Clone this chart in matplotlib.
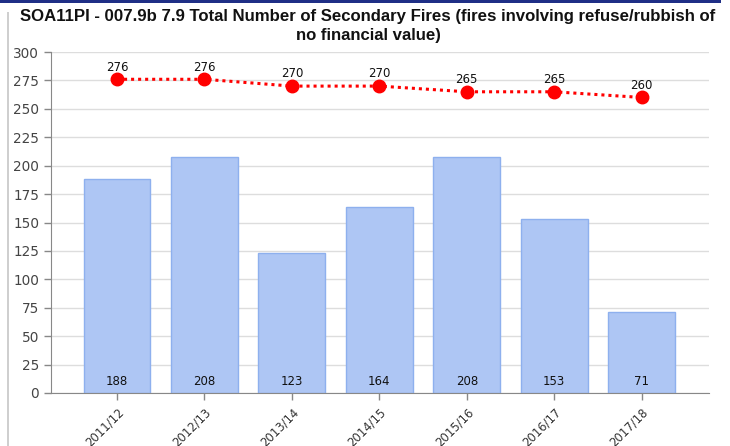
import matplotlib
matplotlib.use("Agg")
import matplotlib.pyplot as plt
from matplotlib.patches import Rectangle

years = ["2011/12", "2012/13", "2013/14", "2014/15", "2015/16", "2016/17", "2017/18"]
fires = [188, 208, 123, 164, 208, 153, 71]
target = [276, 276, 270, 270, 265, 265, 260]
yticks = list(range(0, 301, 25))

W, H = 730, 446
fig = plt.figure(figsize=(W / 100, H / 100), dpi=100)
fig.patch.set_facecolor("white")

# frame decorations: dark header strip and left grey rule
fig.add_artist(Rectangle((0, 1 - 3 / H), 721 / W, 3 / H, transform=fig.transFigure,
                         color="#1f2f86", lw=0))
fig.add_artist(Rectangle((7 / W, 0), 2 / W, 1 - 12 / H, transform=fig.transFigure,
                         color="#cfcfcf", lw=0))

left, right, top, bottom = 51, 709, 52, 393
ax = fig.add_axes([left / W, 1 - bottom / H, (right - left) / W, (bottom - top) / H])

x = list(range(len(years)))
ax.bar(x, fires, width=0.765, color="#aec6f4", edgecolor="#8eb0ee", linewidth=1, zorder=2)
for xi, v in zip(x, fires):
    ax.text(xi, 4, str(v), ha="center", va="bottom", fontsize=8.5, color="#111111", zorder=4)

ax.plot(x, target, color="#ff0000", linestyle=(0, (1, 1.3)), linewidth=2.2,
        marker="o", markersize=9, markerfacecolor="#ff0000", markeredgecolor="#ff0000", zorder=3)
for xi, v in zip(x, target):
    ax.text(xi, v + 5, str(v), ha="center", va="bottom", fontsize=8.5, color="#111111", zorder=4)

ax.set_xlim(-0.755, 6.77)
ax.set_ylim(0, 300)
ax.set_yticks(yticks)
ax.set_yticklabels([str(t) for t in yticks], fontsize=9.8, color="#444444")
ax.set_xticks(x)
ax.set_xticklabels(years, rotation=45, ha="right", rotation_mode="anchor",
                   fontsize=8.4, color="#333333")
ax.grid(axis="y", color="#dddddd", linewidth=1, zorder=0)
ax.set_axisbelow(True)
for s in ["top", "right"]:
    ax.spines[s].set_visible(False)
ax.spines["left"].set_color("#888888")
ax.spines["bottom"].set_color("#888888")
ax.tick_params(axis="both", color="#888888", length=5, width=1)
ax.tick_params(axis="x", pad=4)

fig.text(368 / W, 1 - 26 / H,
         "SOA11PI - 007.9b 7.9 Total Number of Secondary Fires (fires involving refuse/rubbish of\nno financial value)",
         ha="center", va="center", fontsize=12.1, fontweight="bold", color="#111111",
         family="Liberation Sans", linespacing=1.28)

fig.savefig("out.png", dpi=100)
